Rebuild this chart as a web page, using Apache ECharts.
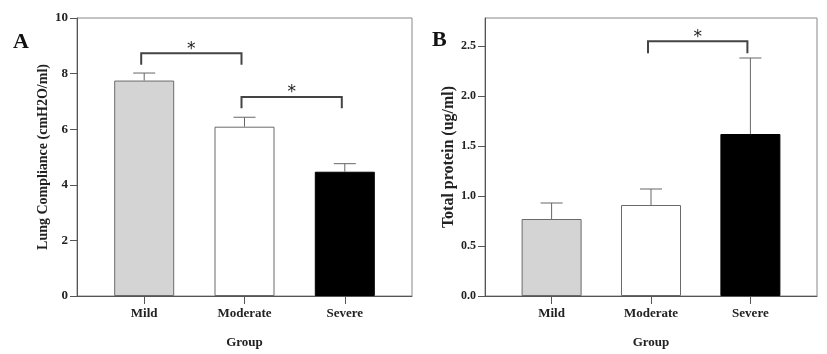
<!DOCTYPE html>
<html>
<head>
<meta charset="utf-8">
<script src="https://cdn.jsdelivr.net/npm/echarts@6/dist/echarts.min.js"></script>
<style>
  html, body { margin: 0; padding: 0; background: #fff; }
  #chart { width: 827px; height: 354px; }
</style>
</head>
<body>
<div id="chart"></div>
<script>
// data
var groups = ['Mild', 'Moderate', 'Severe']
var groupPos = [1, 2, 3]
var barColors = ['#d4d4d4', '#ffffff', '#000000']

// panel A: lung compliance
var complianceMean = [7.75, 6.09, 4.47]
var complianceErr = [8.02, 6.43, 4.76]
var complianceTicks = [0, 2, 4, 6, 8, 10]
// bracket: [fromX, toX, lineY, footY]
var complianceSig = [[1, 2, 8.73, 8.32], [2, 3, 7.16, 6.75]]

// panel B: total protein
var proteinMean = [0.77, 0.91, 1.62]
var proteinErr = [0.93, 1.07, 2.38]
var proteinTicks = [0, 0.5, 1.0, 1.5, 2.0, 2.5]
var proteinSig = [[2, 3, 2.547, 2.427]]

var serif = 'Liberation Serif'
var axisColor = '#555'

var bars = function (means, idx) {
  return {
    type: 'bar',
    xAxisIndex: idx,
    yAxisIndex: idx,
    barWidth: 60,
    z: 2,
    data: means.map(function (m, i) {
      return {
        value: [groupPos[i], m],
        itemStyle: {
          color: barColors[i],
          borderColor: i === 2 ? '#000' : '#6a6a6a',
          borderWidth: 1
        }
      }
    })
  }
}

var errorBars = function (means, tops, idx) {
  return {
    type: 'custom',
    xAxisIndex: idx,
    yAxisIndex: idx,
    z: 3,
    data: means.map(function (m, i) { return [groupPos[i], m, tops[i]] }),
    renderItem: function (params, api) {
      var base = api.coord([api.value(0), api.value(1)])
      var top = api.coord([api.value(0), api.value(2)])
      var style = { stroke: '#666', lineWidth: 1 }
      return {
        type: 'group',
        children: [
          { type: 'line', shape: { x1: base[0], y1: base[1], x2: top[0], y2: top[1] }, style: style },
          { type: 'line', shape: { x1: top[0] - 11, y1: top[1], x2: top[0] + 11, y2: top[1] }, style: style }
        ]
      }
    }
  }
}

var brackets = function (sig, idx) {
  return {
    type: 'custom',
    xAxisIndex: idx,
    yAxisIndex: idx,
    z: 4,
    data: sig,
    renderItem: function (params, api) {
      var a = api.coord([api.value(0), api.value(2)])
      var b = api.coord([api.value(1), api.value(2)])
      var af = api.coord([api.value(0), api.value(3)])
      var bf = api.coord([api.value(1), api.value(3)])
      return {
        type: 'group',
        children: [
          {
            type: 'polyline',
            shape: { points: [[af[0] - 3, af[1]], [a[0] - 3, a[1]], [b[0] - 3, b[1]], [bf[0] - 3, bf[1]]] },
            style: { stroke: '#444', lineWidth: 2, fill: null }
          },
          {
            type: 'text',
            style: {
              text: '*', x: (a[0] + b[0]) / 2 - 3, y: a[1] - 4,
              align: 'center', verticalAlign: 'middle',
              font: '17px "DejaVu Sans"', fill: '#222'
            }
          }
        ]
      }
    }
  }
}

var xAxisCfg = function (idx) {
  return {
    type: 'value',
    gridIndex: idx,
    min: 0.33,
    max: 3.67,
    name: 'Group',
    nameLocation: 'middle',
    nameGap: 40,
    nameTextStyle: { fontFamily: serif, fontWeight: 'bold', fontSize: 13, color: '#222' },
    splitLine: { show: false },
    axisLine: { lineStyle: { color: axisColor, width: 1 } },
    axisTick: { customValues: groupPos, length: 8, lineStyle: { color: axisColor } },
    axisLabel: {
      customValues: groupPos,
      margin: 11,
      fontFamily: serif, fontWeight: 'bold', fontSize: 13, color: '#222',
      formatter: function (v) { return groups[Math.round(v) - 1] }
    }
  }
}

var chart = echarts.init(document.getElementById('chart'))

var option = {
  animation: false,
  backgroundColor: '#fff',
  title: [
    { text: 'A', left: 8, top: 26, textStyle: { fontFamily: serif, fontWeight: 'bold', fontSize: 22, color: '#111' } },
    { text: 'B', left: 427, top: 24, textStyle: { fontFamily: serif, fontWeight: 'bold', fontSize: 22, color: '#111' } }
  ],
  grid: [
    { left: 77, top: 18, right: 415, bottom: 54, show: true, borderColor: '#888', borderWidth: 1 },
    { left: 485, top: 18, right: 10, bottom: 57, show: true, borderColor: '#888', borderWidth: 1 }
  ],
  xAxis: [xAxisCfg(0), xAxisCfg(1)],
  yAxis: [
    {
      type: 'value',
      gridIndex: 0,
      min: 0,
      max: 10,
      interval: 2,
      name: 'Lung Compliance (cmH2O/ml)',
      nameLocation: 'middle',
      nameGap: 27,
      nameTextStyle: { fontFamily: serif, fontWeight: 'bold', fontSize: 14, color: '#222' },
      splitLine: { show: false },
      axisLine: { show: true, lineStyle: { color: axisColor } },
      axisTick: { show: true, length: 7, lineStyle: { color: axisColor } },
      axisLabel: { margin: 9, fontFamily: serif, fontWeight: 'bold', fontSize: 13, color: '#222' }
    },
    {
      type: 'value',
      gridIndex: 1,
      min: 0,
      max: 2.78,
      name: 'Total protein (ug/ml)',
      nameLocation: 'middle',
      nameGap: 28,
      nameTextStyle: { fontFamily: serif, fontWeight: 'bold', fontSize: 16, color: '#222' },
      splitLine: { show: false },
      axisLine: { show: true, lineStyle: { color: axisColor } },
      axisTick: { show: true, customValues: proteinTicks, length: 7, lineStyle: { color: axisColor } },
      axisLabel: {
        customValues: proteinTicks,
        margin: 9,
        fontFamily: serif, fontWeight: 'bold', fontSize: 12, color: '#222',
        formatter: function (v) { return v.toFixed(1) }
      }
    }
  ],
  series: [
    bars(complianceMean, 0),
    errorBars(complianceMean, complianceErr, 0),
    brackets(complianceSig, 0),
    bars(proteinMean, 1),
    errorBars(proteinMean, proteinErr, 1),
    brackets(proteinSig, 1)
  ]
}

chart.setOption(option)
</script>
</body>
</html>
